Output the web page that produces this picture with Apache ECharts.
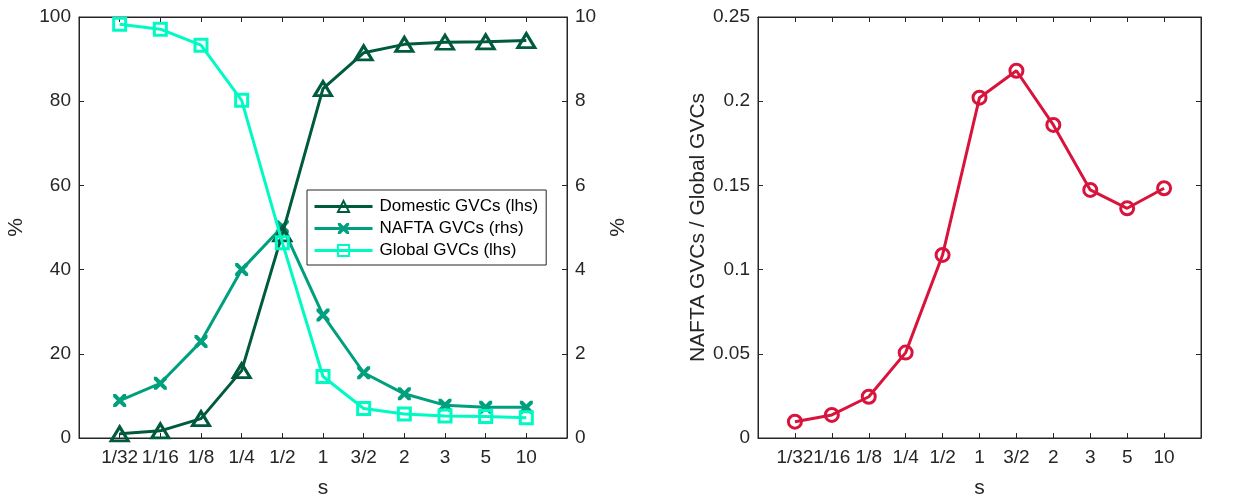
<!DOCTYPE html>
<html>
<head>
<meta charset="utf-8">
<script src="https://cdn.jsdelivr.net/npm/echarts@6/dist/echarts.min.js"></script>
<style>html,body{margin:0;padding:0;background:#fff}#c{width:1254px;height:497px}</style>
</head>
<body>
<div id="c"></div>
<script>
const categories = ['1/32','1/16','1/8','1/4','1/2','1','3/2','2','3','5','10'];
const domestic = [1.0, 1.7, 4.6, 16.0, 48.5, 83.0, 91.5, 93.5, 94.0, 94.1, 94.4];
const nafta = [0.89, 1.30, 2.29, 4.00, 5.02, 2.92, 1.55, 1.05, 0.78, 0.73, 0.73];
const global = [98.3, 97.1, 93.3, 80.2, 46.4, 14.6, 7.0, 5.7, 5.2, 5.1, 4.8];
const ratio = [0.0097, 0.0137, 0.0245, 0.0507, 0.1087, 0.2021, 0.2181, 0.1859, 0.1473, 0.1364, 0.1483];

const FONT = 'Liberation Sans';
const AX = '#262626';
const C_DOM = '#005a3e';
const C_NAF = '#00a07e';
const C_GLO = '#00fac4';
const C_RED = '#d9143c';
const NONE = 'rgba(255,255,255,0)';
const xPath = 'path://M0,0 L2.2,0 L5,2.8 L7.8,0 L10,0 L10,2.2 L7.2,5 L10,7.8 L10,10 L7.8,10 L5,7.2 L2.2,10 L0,10 L0,7.8 L2.8,5 L0,2.2 Z';
const TICK_FS = 19, NAME_FS = 21, LEG_FS = 17;

const pts = arr => arr.map((v, i) => [i + 1, v]);
const catIdx = categories.map((c, i) => i + 1);

function xAxisDef(gridIndex, top) {
  return {
    type: 'value', gridIndex, min: 0, max: 12, interval: 1,
    position: top ? 'top' : 'bottom',
    name: top ? '' : 's', nameLocation: 'middle', nameGap: 40,
    nameTextStyle: { fontFamily: FONT, fontSize: NAME_FS, color: AX },
    axisLine: { show: true, onZero: false, lineStyle: { color: AX, width: 1 } },
    axisTick: { show: true, inside: true, length: 5, lineStyle: { color: AX }, customValues: catIdx },
    axisLabel: { show: !top, fontFamily: FONT, fontSize: TICK_FS, color: AX, margin: 10,
      customValues: catIdx, formatter: v => categories[v - 1] || '' },
    splitLine: { show: false }
  };
}

function yAxisDef(gridIndex, pos, max, interval, name, nameGap, showLabel, fmt) {
  return {
    type: 'value', gridIndex, min: 0, max, interval, position: pos,
    name, nameLocation: 'middle', nameGap, nameRotate: 90,
    nameTextStyle: { fontFamily: FONT, fontSize: NAME_FS, color: AX },
    axisLine: { show: true, onZero: false, lineStyle: { color: AX, width: 1 } },
    axisTick: { show: true, inside: true, length: 5, lineStyle: { color: AX } },
    axisLabel: { show: showLabel, fontFamily: FONT, fontSize: TICK_FS, color: AX, margin: 8, formatter: fmt },
    splitLine: { show: false }
  };
}

const gridBase = { top: 17, height: 421, show: true, borderColor: AX, borderWidth: 1,
  backgroundColor: 'transparent', containLabel: false, outerBoundsMode: 'none' };

const chart = echarts.init(document.getElementById('c'), null, { renderer: 'canvas' });
chart.setOption({
  backgroundColor: '#ffffff',
  animation: false,
  grid: [
    Object.assign({ left: 79, width: 488 }, gridBase),
    Object.assign({ left: 758, width: 443 }, gridBase)
  ],
  xAxis: [xAxisDef(0, false), xAxisDef(0, true), xAxisDef(1, false), xAxisDef(1, true)],
  yAxis: [
    yAxisDef(0, 'left', 100, 20, '%', 52, true, v => String(v)),
    yAxisDef(0, 'right', 10, 2, '%', 41, true, v => String(v)),
    yAxisDef(1, 'left', 0.25, 0.05, 'NAFTA GVCs / Global GVCs', 46, true, v => String(+v.toFixed(2))),
    yAxisDef(1, 'right', 0.25, 0.05, '', 10, false, v => '')
  ],
  legend: {
    left: 307, top: 190, orient: 'vertical',
    backgroundColor: '#fff', borderColor: AX, borderWidth: 1,
    padding: [8, 8, 6, 6], itemGap: 5, itemWidth: 58, itemHeight: 14,
    lineStyle: { width: 3 },
    textStyle: { fontFamily: FONT, fontSize: LEG_FS, color: '#000', padding: [0, 0, 0, 2] },
    data: ['Domestic GVCs (lhs)', 'NAFTA GVCs (rhs)', 'Global GVCs (lhs)']
  },
  series: [
    { name: 'Domestic GVCs (lhs)', type: 'line', xAxisIndex: 0, yAxisIndex: 0, data: pts(domestic),
      symbol: 'triangle', symbolSize: [17, 14], z: 4,
      lineStyle: { color: C_DOM, width: 3 }, itemStyle: { color: NONE, borderColor: C_DOM, borderWidth: 3 } },
    { name: 'NAFTA GVCs (rhs)', type: 'line', xAxisIndex: 0, yAxisIndex: 1, data: pts(nafta),
      symbol: xPath, symbolSize: 13, z: 3,
      lineStyle: { color: C_NAF, width: 3 }, itemStyle: { color: C_NAF, borderWidth: 0 } },
    { name: 'Global GVCs (lhs)', type: 'line', xAxisIndex: 0, yAxisIndex: 0, data: pts(global),
      symbol: 'rect', symbolSize: 12, z: 5,
      lineStyle: { color: C_GLO, width: 3 }, itemStyle: { color: NONE, borderColor: C_GLO, borderWidth: 3 } },
    { name: 'ratio', type: 'line', xAxisIndex: 2, yAxisIndex: 2, data: pts(ratio),
      symbol: 'circle', symbolSize: 13,
      lineStyle: { color: C_RED, width: 3 }, itemStyle: { color: NONE, borderColor: C_RED, borderWidth: 3 } }
  ]
});
</script>
</body>
</html>
